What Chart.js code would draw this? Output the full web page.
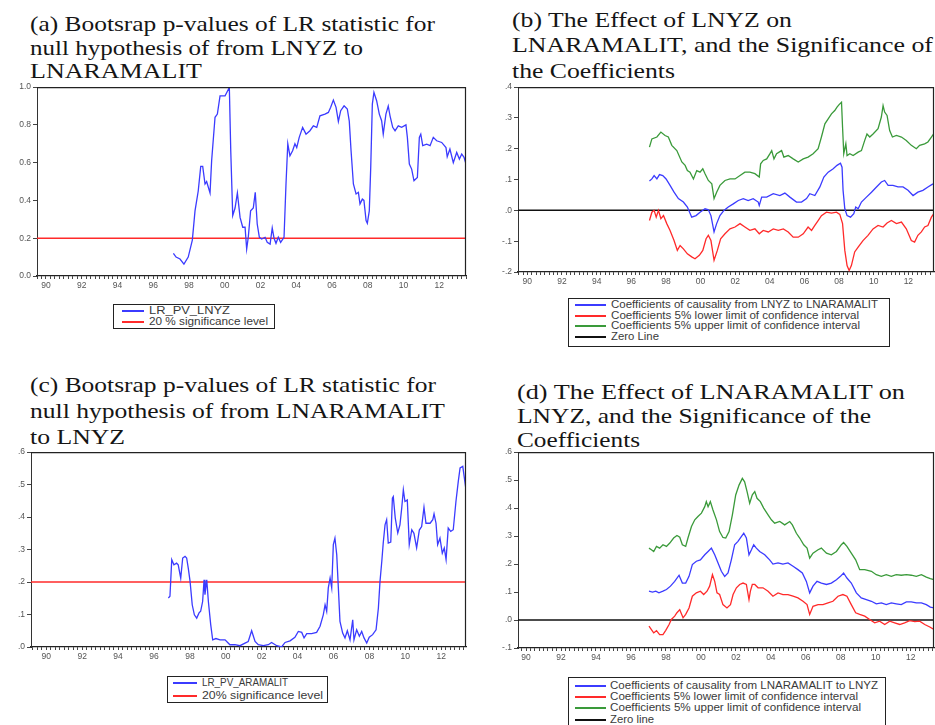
<!DOCTYPE html>
<html><head><meta charset="utf-8">
<script src="https://cdn.jsdelivr.net/npm/chart.js@4.4.0/dist/chart.umd.min.js"></script>
<style>
html,body{margin:0;padding:0;background:#fff;}
body{width:935px;height:725px;position:relative;overflow:hidden;}
canvas{position:absolute;}
.t{position:absolute;font-family:"Liberation Serif","Times New Roman",serif;font-size:22px;color:#151515;white-space:nowrap;line-height:21px;transform-origin:0 0;}
.lg{position:absolute;border:1.5px solid #222;box-sizing:border-box;background:#fff;}
.row{position:absolute;left:0;font-family:"Liberation Sans",Arial,sans-serif;font-size:10px;color:#3a3a3a;white-space:nowrap;line-height:10px;}
.sw{position:absolute;height:2px;top:4px;}
.tx{position:absolute;top:0;transform-origin:0 0;}
</style></head><body>
<div class="t" data-w="405" style="left:30px;top:13px">(a) Bootsrap p-values of LR statistic for</div>
<div class="t" data-w="333" style="left:30px;top:37px">null hypothesis of from LNYZ to</div>
<div class="t" data-w="172" style="left:30px;top:60px">LNARAMALIT</div>
<div class="t" data-w="280" style="left:512px;top:9px">(b) The Effect of LNYZ on</div>
<div class="t" data-w="421" style="left:512px;top:34px">LNARAMALIT, and the Significance of</div>
<div class="t" data-w="163" style="left:512px;top:60px">the Coefficients</div>
<div class="t" data-w="406" style="left:30px;top:374px">(c) Bootsrap p-values of LR statistic for</div>
<div class="t" data-w="415" style="left:30px;top:400px">null hypothesis of from LNARAMALIT</div>
<div class="t" data-w="95" style="left:30px;top:426px">to LNYZ</div>
<div class="t" data-w="388" style="left:517px;top:381px">(d) The Effect of LNARAMALIT on</div>
<div class="t" data-w="354" style="left:517px;top:405px">LNYZ, and the Significance of the</div>
<div class="t" data-w="123" style="left:517px;top:429px">Coefficients</div>

<canvas id="ca" width="470" height="220" style="left:0;top:80px"></canvas>
<canvas id="cb" width="445" height="215" style="left:490px;top:80px"></canvas>
<canvas id="cc" width="470" height="225" style="left:0;top:445px"></canvas>
<canvas id="cd" width="445" height="228" style="left:490px;top:445px"></canvas>

<div id="lga" class="lg" style="left:113px;top:304px;width:162px;height:25px"></div>
<div id="lgb" class="lg" style="left:568px;top:298px;width:322px;height:49px"></div>
<div id="lgc" class="lg" style="left:167px;top:676px;width:161px;height:27px"></div>
<div id="lgd" class="lg" style="left:568px;top:677px;width:318px;height:52px"></div>

<script>
// ---------- DATA ----------
const yearLabels = [1990,1992,1994,1996,1998,2000,2002,2004,2006,2008,2010,2012];

// (a) p-values, LNYZ -> LNARAMALIT
const aYears = [1997.13,1997.28,1997.5,1997.72,1997.96,1998.19,1998.34,1998.52,1998.66,1998.77,1998.9,1998.99,1999.18,1999.27,1999.46,1999.59,1999.74,2000.02,2000.11,2000.26,2000.34,2000.45,2000.58,2000.71,2000.86,2001.01,2001.14,2001.23,2001.32,2001.45,2001.6,2001.71,2001.82,2001.94,2002.07,2002.26,2002.38,2002.54,2002.66,2002.76,2002.87,2003.0,2003.13,2003.32,2003.43,2003.53,2003.65,2003.8,2003.93,2004.03,2004.17,2004.36,2004.55,2004.77,2004.96,2005.15,2005.33,2005.61,2005.8,2005.93,2006.08,2006.23,2006.36,2006.49,2006.68,2006.86,2006.97,2007.07,2007.2,2007.35,2007.48,2007.57,2007.7,2007.79,2007.91,2007.98,2008.09,2008.17,2008.26,2008.35,2008.5,2008.65,2008.78,2008.87,2009.02,2009.15,2009.25,2009.4,2009.53,2009.71,2009.9,2010.14,2010.22,2010.33,2010.46,2010.59,2010.78,2010.89,2010.97,2011.08,2011.3,2011.49,2011.67,2011.86,2012.14,2012.38,2012.45,2012.6,2012.79,2012.98,2013.13,2013.26,2013.39,2013.5];
const aPValues = [0.12,0.10,0.09,0.063,0.10,0.19,0.345,0.45,0.58,0.58,0.487,0.50,0.44,0.61,0.84,0.857,0.954,0.954,0.97,0.998,0.66,0.32,0.36,0.44,0.31,0.258,0.258,0.143,0.205,0.345,0.36,0.443,0.275,0.205,0.196,0.205,0.178,0.169,0.254,0.20,0.173,0.205,0.178,0.205,0.487,0.70,0.636,0.663,0.70,0.68,0.734,0.787,0.751,0.769,0.795,0.787,0.848,0.857,0.866,0.893,0.931,0.893,0.818,0.875,0.901,0.884,0.82,0.663,0.487,0.434,0.443,0.381,0.407,0.40,0.293,0.279,0.345,0.575,0.91,0.972,0.928,0.857,0.822,0.751,0.857,0.90,0.848,0.787,0.769,0.795,0.787,0.80,0.734,0.593,0.566,0.504,0.522,0.734,0.751,0.69,0.698,0.69,0.734,0.716,0.707,0.68,0.631,0.672,0.60,0.654,0.619,0.646,0.628,0.593];
const aSigLevel = 0.2;
const aYTicks = [0,0.2,0.4,0.6,0.8,1.0];

// (b) coefficients, LNYZ -> LNARAMALIT
const bCoefYears = [1997.05,1997.19,1997.32,1997.48,1997.63,1997.82,1998.01,1998.24,1998.47,1998.72,1999.01,1999.24,1999.49,1999.74,1999.97,2000.26,2000.45,2000.6,2000.78,2000.93,2001.12,2001.35,2001.6,2001.89,2002.18,2002.47,2002.75,2003.04,2003.33,2003.39,2003.53,2003.82,2004.2,2004.58,2004.87,2005.16,2005.54,2005.83,2006.12,2006.31,2006.6,2006.89,2007.12,2007.37,2007.66,2007.88,2008.08,2008.17,2008.23,2008.33,2008.46,2008.66,2008.85,2008.96,2009.1,2009.29,2009.58,2009.87,2010.16,2010.44,2010.63,2010.83,2011.11,2011.4,2011.69,2011.98,2012.27,2012.55,2012.84,2013.13,2013.42];
const bCoef = [0.095,0.102,0.113,0.102,0.116,0.113,0.102,0.081,0.059,0.038,0.027,0.011,-0.022,-0.017,-0.006,0.005,0.002,-0.017,-0.07,-0.043,-0.017,0.0,0.011,0.021,0.032,0.038,0.032,0.038,0.027,0.016,0.043,0.043,0.054,0.048,0.056,0.043,0.027,0.027,0.038,0.054,0.048,0.076,0.108,0.124,0.135,0.146,0.153,0.14,0.065,0.005,-0.017,-0.022,-0.011,0.011,0.005,0.027,0.043,0.059,0.076,0.092,0.097,0.081,0.081,0.076,0.076,0.065,0.048,0.059,0.065,0.076,0.086];
const bLowerYears = [1997.05,1997.19,1997.32,1997.44,1997.57,1997.71,1997.86,1998.05,1998.24,1998.47,1998.66,1998.82,1999.01,1999.24,1999.49,1999.68,1999.93,2000.13,2000.32,2000.45,2000.6,2000.78,2000.97,2001.16,2001.41,2001.7,2001.99,2002.28,2002.56,2002.85,2003.14,2003.39,2003.62,2003.91,2004.2,2004.49,2004.78,2005.06,2005.35,2005.64,2005.93,2006.21,2006.41,2006.6,2006.79,2006.98,2007.27,2007.56,2007.85,2008.04,2008.2,2008.33,2008.46,2008.58,2008.71,2008.9,2009.1,2009.38,2009.67,2009.96,2010.25,2010.54,2010.77,2011.02,2011.31,2011.6,2011.88,2012.17,2012.36,2012.55,2012.75,2012.94,2013.13,2013.33,2013.46];
const bLower = [-0.033,-0.006,0.0,-0.022,0.0,-0.027,-0.017,-0.043,-0.065,-0.098,-0.13,-0.114,-0.125,-0.141,-0.151,-0.157,-0.146,-0.13,-0.092,-0.081,-0.098,-0.162,-0.13,-0.092,-0.076,-0.06,-0.054,-0.043,-0.054,-0.065,-0.06,-0.076,-0.065,-0.07,-0.06,-0.065,-0.06,-0.07,-0.087,-0.087,-0.076,-0.054,-0.065,-0.049,-0.033,-0.017,-0.006,-0.009,-0.006,-0.013,-0.043,-0.13,-0.179,-0.195,-0.179,-0.135,-0.119,-0.098,-0.081,-0.06,-0.049,-0.054,-0.041,-0.033,-0.043,-0.038,-0.06,-0.098,-0.103,-0.081,-0.07,-0.054,-0.049,-0.022,-0.011];
const bUpperYears = [1997.05,1997.19,1997.48,1997.71,1997.95,1998.14,1998.34,1998.63,1998.92,1999.11,1999.24,1999.39,1999.59,1999.78,1999.97,2000.13,2000.26,2000.45,2000.65,2000.78,2000.93,2001.12,2001.41,2001.7,2001.99,2002.28,2002.56,2002.85,2003.14,2003.39,2003.47,2003.62,2003.82,2004.01,2004.11,2004.24,2004.39,2004.68,2004.81,2005.06,2005.35,2005.64,2005.93,2006.21,2006.5,2006.79,2006.98,2007.18,2007.37,2007.56,2007.75,2007.88,2008.0,2008.14,2008.2,2008.27,2008.39,2008.46,2008.62,2008.81,2009.1,2009.29,2009.48,2009.61,2009.77,2009.96,2010.25,2010.44,2010.54,2010.63,2010.77,2010.92,2011.08,2011.31,2011.6,2011.88,2012.17,2012.46,2012.65,2012.94,2013.13,2013.33,2013.46];
const bUpper = [0.205,0.232,0.238,0.254,0.243,0.238,0.211,0.194,0.157,0.146,0.129,0.124,0.102,0.129,0.124,0.135,0.119,0.097,0.086,0.038,0.059,0.081,0.097,0.102,0.102,0.113,0.124,0.124,0.119,0.108,0.151,0.162,0.167,0.184,0.194,0.167,0.184,0.194,0.173,0.178,0.167,0.157,0.167,0.173,0.184,0.2,0.238,0.281,0.297,0.313,0.324,0.335,0.343,0.351,0.27,0.184,0.216,0.178,0.184,0.178,0.189,0.194,0.227,0.248,0.238,0.248,0.265,0.303,0.34,0.319,0.308,0.259,0.238,0.243,0.238,0.227,0.211,0.2,0.211,0.216,0.222,0.238,0.248];
const zeroLine = 0;
const bYTicks = [-0.2,-0.1,0,0.1,0.2,0.3,0.4];

// (c) p-values, LNARAMALIT -> LNYZ
const cYears = [1996.80,1996.89,1996.99,1997.11,1997.26,1997.35,1997.49,1997.6,1997.73,1997.82,1997.91,1998.01,1998.13,1998.25,1998.38,1998.51,1998.6,1998.71,1998.79,1998.84,1998.94,1999.03,1999.16,1999.27,1999.45,1999.68,1999.96,2000.23,2000.51,2000.79,2001.07,2001.25,2001.44,2001.63,2001.81,2002.09,2002.37,2002.55,2002.84,2003.11,2003.3,2003.58,2003.85,2004.04,2004.23,2004.36,2004.51,2004.78,2005.06,2005.25,2005.43,2005.53,2005.62,2005.71,2005.81,2005.9,2005.99,2006.08,2006.18,2006.27,2006.36,2006.51,2006.64,2006.77,2006.92,2007.07,2007.14,2007.29,2007.44,2007.57,2007.7,2007.85,2007.99,2008.18,2008.37,2008.5,2008.59,2008.69,2008.77,2008.87,2008.96,2009.05,2009.19,2009.28,2009.33,2009.44,2009.58,2009.7,2009.8,2009.89,2009.98,2010.11,2010.22,2010.36,2010.48,2010.63,2010.78,2010.91,2011.04,2011.15,2011.38,2011.53,2011.6,2011.71,2011.8,2011.93,2012.06,2012.17,2012.27,2012.39,2012.53,2012.67,2012.82,2012.95,2013.05,2013.2,2013.29,2013.38];
const cPValues = [0.151,0.156,0.269,0.253,0.258,0.253,0.212,0.274,0.279,0.274,0.243,0.202,0.13,0.099,0.089,0.105,0.11,0.14,0.207,0.161,0.207,0.14,0.069,0.022,0.026,0.022,0.022,0.007,0.007,0.004,0.012,0.017,0.05,0.017,0.007,0.004,0.007,0.014,0.004,0.0,0.014,0.019,0.03,0.048,0.045,0.028,0.041,0.041,0.045,0.064,0.099,0.13,0.11,0.182,0.212,0.182,0.315,0.335,0.284,0.182,0.079,0.043,0.028,0.05,0.022,0.084,0.022,0.053,0.033,0.048,0.028,0.012,0.03,0.038,0.053,0.12,0.202,0.264,0.32,0.376,0.392,0.32,0.323,0.458,0.463,0.397,0.351,0.376,0.428,0.484,0.448,0.453,0.315,0.361,0.35,0.305,0.36,0.371,0.43,0.381,0.381,0.392,0.41,0.381,0.315,0.335,0.289,0.305,0.269,0.366,0.356,0.361,0.448,0.51,0.551,0.556,0.52,0.484];
const cSigLevel = 0.2;
const cYTicks = [0,0.1,0.2,0.3,0.4,0.5,0.6];

// (d) coefficients, LNARAMALIT -> LNYZ
const dCoefYears = [1997.03,1997.23,1997.42,1997.6,1997.83,1998.03,1998.26,1998.5,1998.75,1998.94,1999.13,1999.32,1999.51,1999.74,1999.97,2000.22,2000.41,2000.6,2000.79,2000.98,2001.17,2001.36,2001.55,2001.74,2001.93,2002.12,2002.32,2002.45,2002.6,2002.75,2002.89,2003.02,2003.17,2003.36,2003.65,2003.93,2004.12,2004.41,2004.69,2004.98,2005.27,2005.55,2005.8,2006.03,2006.22,2006.41,2006.64,2006.89,2007.18,2007.46,2007.75,2007.98,2008.16,2008.35,2008.6,2008.89,2009.17,2009.46,2009.75,2010.03,2010.32,2010.6,2010.89,2011.17,2011.46,2011.75,2012.03,2012.32,2012.61,2012.89,2013.12,2013.33];
const dCoef = [0.103,0.1,0.103,0.097,0.103,0.109,0.121,0.138,0.16,0.132,0.132,0.156,0.198,0.21,0.215,0.233,0.245,0.257,0.233,0.204,0.174,0.156,0.168,0.215,0.269,0.281,0.299,0.31,0.293,0.233,0.251,0.269,0.257,0.245,0.233,0.215,0.2,0.204,0.2,0.204,0.192,0.18,0.168,0.138,0.097,0.121,0.138,0.132,0.127,0.132,0.144,0.156,0.168,0.15,0.132,0.097,0.079,0.073,0.067,0.058,0.061,0.055,0.061,0.058,0.055,0.065,0.065,0.061,0.061,0.055,0.046,0.043];
const dLowerYears = [1997.03,1997.17,1997.3,1997.46,1997.64,1997.83,1997.99,1998.18,1998.31,1998.5,1998.63,1998.79,1998.98,1999.13,1999.32,1999.51,1999.74,1999.97,2000.16,2000.35,2000.5,2000.66,2000.79,2000.92,2001.07,2001.26,2001.49,2001.69,2001.84,2002.03,2002.22,2002.41,2002.6,2002.75,2002.83,2002.94,2003.08,2003.27,2003.55,2003.84,2004.12,2004.41,2004.69,2004.98,2005.27,2005.55,2005.84,2006.07,2006.22,2006.41,2006.7,2006.98,2007.27,2007.55,2007.84,2008.12,2008.35,2008.6,2008.85,2009.08,2009.37,2009.65,2009.94,2010.22,2010.51,2010.8,2011.08,2011.37,2011.65,2011.94,2012.23,2012.51,2012.8,2013.09,2013.33];
const dLower = [-0.022,-0.034,-0.046,-0.038,-0.052,-0.052,-0.037,-0.016,0.002,0.014,0.026,0.037,0.008,0.02,0.043,0.085,0.097,0.103,0.091,0.103,0.121,0.162,0.138,0.097,0.091,0.055,0.043,0.055,0.091,0.115,0.127,0.132,0.127,0.073,0.103,0.127,0.127,0.115,0.115,0.103,0.085,0.097,0.091,0.091,0.085,0.079,0.067,0.055,0.02,0.049,0.055,0.055,0.061,0.067,0.085,0.091,0.085,0.055,0.026,0.02,0.014,0.002,-0.01,-0.004,-0.016,-0.004,-0.01,-0.016,-0.01,-0.002,-0.006,-0.004,-0.016,-0.025,-0.034];
const dUpperYears = [1997.03,1997.17,1997.3,1997.46,1997.64,1997.83,1998.03,1998.22,1998.44,1998.63,1998.79,1998.94,1999.13,1999.26,1999.46,1999.65,1999.83,2000.03,2000.22,2000.31,2000.41,2000.54,2000.69,2000.89,2001.07,2001.26,2001.42,2001.61,2001.8,2001.99,2002.18,2002.37,2002.5,2002.64,2002.79,2002.94,2003.08,2003.21,2003.4,2003.59,2003.84,2004.03,2004.22,2004.51,2004.79,2005.08,2005.23,2005.46,2005.65,2005.88,2006.07,2006.22,2006.41,2006.7,2006.89,2007.18,2007.46,2007.75,2008.03,2008.16,2008.35,2008.6,2008.85,2009.08,2009.37,2009.75,2010.03,2010.32,2010.6,2010.89,2011.17,2011.46,2011.75,2012.03,2012.32,2012.61,2012.89,2013.12,2013.33];
const dUpper = [0.257,0.251,0.245,0.263,0.257,0.269,0.263,0.275,0.293,0.302,0.296,0.269,0.263,0.293,0.334,0.358,0.37,0.382,0.405,0.423,0.405,0.423,0.393,0.358,0.316,0.295,0.293,0.316,0.376,0.447,0.482,0.506,0.494,0.459,0.417,0.447,0.459,0.435,0.423,0.4,0.376,0.358,0.346,0.352,0.34,0.352,0.34,0.31,0.293,0.269,0.257,0.221,0.239,0.251,0.257,0.239,0.233,0.245,0.269,0.277,0.263,0.239,0.215,0.18,0.18,0.174,0.162,0.156,0.162,0.156,0.162,0.16,0.162,0.16,0.156,0.162,0.153,0.148,0.144];
const dYTicks = [-0.1,0,0.1,0.2,0.3,0.4,0.5,0.6];

// ---------- COLOURS ----------
const BLUE = '#3b3bff', RED = '#ff2a2a', GREEN = '#3a9a3a', BLACK = '#111';

function pts(xs, ys){ const n=Math.min(xs.length, ys.length); const o=[]; for(let i=0;i<n;i++) o.push({x:xs[i], y:ys[i]}); return o; }
function flat(v, lo, hi){ return [{x:lo,y:v},{x:hi,y:v}]; }
function fmtA(v){ return v.toFixed(1); }
function fmtB(v){ const s=Math.abs(v).toFixed(1).replace(/^0/,''); return (v< -1e-9?'-':'')+s; }

const frame = {
  id:'frame',
  afterDraw(chart){
    const a=chart.chartArea, c=chart.ctx;
    c.save(); c.strokeStyle='#222'; c.lineWidth=1.2;
    c.beginPath();
    c.moveTo(a.left, a.top+0.5); c.lineTo(a.right-0.5, a.top+0.5); c.lineTo(a.right-0.5, a.bottom);
    c.stroke(); c.restore();
  }
};

function makeChart(id, o){
  const ds = o.series.map(s=>({
    data:s.data, borderColor:s.color, borderWidth:s.w||1.3, pointRadius:0, tension:0, fill:false
  }));
  return new Chart(document.getElementById(id), {
    type:'line',
    data:{datasets:ds},
    options:{
      responsive:false, animation:false, devicePixelRatio:1,
      layout:{padding:{top:o.padTop, right:o.padRight, left:0, bottom:0}},
      plugins:{legend:{display:false}, tooltip:{enabled:false}},
      scales:{
        x:{type:'linear', min:o.xmin, max:o.xmax,
          afterBuildTicks(s){ const t=[]; for(let q=Math.ceil(o.xmin*4)/4;q<=o.xmax+1e-9;q+=0.25) t.push({value:Math.round(q*100)/100}); s.ticks=t; },
          afterFit(s){ s.height=o.xAxisH; },
          ticks:{autoSkip:false, maxRotation:0, padding:2, color:'#555', font:{family:'Liberation Sans, Arial', size:8.5},
            callback(v){ const r=Math.round(v*100)/100; return (yearLabels.includes(r)) ? String(r%100).padStart(2,'0') : ''; }},
          grid:{drawOnChartArea:false, drawTicks:true, tickLength:3, color:'#444'},
          border:{display:true, color:'#222', width:1.2}
        },
        y:{min:o.ymin, max:o.ymax,
          afterBuildTicks(s){ s.ticks=o.yticks.map(v=>({value:v})); },
          afterFit(s){ s.width=o.yAxisW; },
          ticks:{padding:2, color:'#555', font:{family:'Liberation Sans, Arial', size:8.5}, callback:o.fmt},
          grid:{drawOnChartArea:false, drawTicks:true, tickLength:4, color:'#444'},
          border:{display:true, color:'#333', width:1}
        }
      }
    },
    plugins:[frame]
  });
}

// (a)
const aXmin=1989.5, aXmax=2013.5;
makeChart('ca',{xmin:aXmin,xmax:aXmax,ymin:0,ymax:1,yticks:aYTicks,fmt:fmtA,padTop:7,padRight:4,xAxisH:24,yAxisW:37,
  series:[{data:pts(aYears,aPValues),color:BLUE},{data:flat(aSigLevel,aXmin,aXmax),color:RED,w:1.5}]});
// (b)
const bXmin=1989.46, bXmax=2013.48;
makeChart('cb',{xmin:bXmin,xmax:bXmax,ymin:-0.2,ymax:0.4,yticks:bYTicks,fmt:fmtB,padTop:7,padRight:1,xAxisH:23,yAxisW:28,
  series:[{data:pts(bCoefYears,bCoef),color:BLUE},{data:pts(bLowerYears,bLower),color:RED},{data:pts(bUpperYears,bUpper),color:GREEN},{data:flat(zeroLine,bXmin,bXmax),color:BLACK,w:1.5}]});
// (c)
const cXmin=1989.15, cXmax=2013.38;
makeChart('cc',{xmin:cXmin,xmax:cXmax,ymin:0,ymax:0.6,yticks:cYTicks,fmt:fmtB,padTop:7,padRight:4,xAxisH:23,yAxisW:31,
  series:[{data:pts(cYears,cPValues),color:BLUE},{data:flat(cSigLevel,cXmin,cXmax),color:RED,w:1.5}]});
// (d)
const dXmin=1989.54, dXmax=2013.33;
makeChart('cd',{xmin:dXmin,xmax:dXmax,ymin:-0.1,ymax:0.6,yticks:dYTicks,fmt:fmtB,padTop:7,padRight:1,xAxisH:25,yAxisW:28,
  series:[{data:pts(dCoefYears,dCoef),color:BLUE},{data:pts(dLowerYears,dLower),color:RED},{data:pts(dUpperYears,dUpper),color:GREEN},{data:flat(zeroLine,dXmin,dXmax),color:BLACK,w:1.5}]});

// ---------- LEGENDS ----------
function legend(id, items, swL, swW, txtL, rowTops){
  const box=document.getElementById(id);
  items.forEach((it,i)=>{
    const r=document.createElement('div'); r.className='row'; r.style.top=rowTops[i]+'px'; r.style.left='0px';
    const sw=document.createElement('span'); sw.className='sw'; sw.style.left=swL+'px'; sw.style.width=swW+'px'; sw.style.background=it.c;
    const tx=document.createElement('span'); tx.className='tx'; tx.style.left=txtL+'px'; tx.textContent=it.t; tx.dataset.w=it.w;
    r.appendChild(sw); r.appendChild(tx); box.appendChild(r);
  });
}
legend('lga',[{t:'LR_PV_LNYZ',c:BLUE,w:81},{t:'20 % significance level',c:RED,w:119}],8,22,35,[1,12]);
legend('lgb',[{t:'Coefficients of causality from LNYZ to LNARAMALIT',c:BLUE,w:267},{t:'Coefficients 5% lower limit of confidence interval',c:RED,w:248},{t:'Coefficients 5% upper limit of confidence interval',c:GREEN,w:249},{t:'Zero Line',c:BLACK,w:48}],6,31,42,[1,12,22,33]);
legend('lgc',[{t:'LR_PV_ARAMALIT',c:BLUE,w:86},{t:'20% significance level',c:RED,w:121}],5,24,34,[1,14]);
legend('lgd',[{t:'Coefficients of causality from LNARAMALIT to LNYZ',c:BLUE,w:268},{t:'Coefficients 5% lower limit of confidence interval',c:RED,w:248},{t:'Coefficients 5% upper limit of confidence interval',c:GREEN,w:251},{t:'Zero line',c:BLACK,w:44}],6,31,41,[3,14,25,37]);

// fit text widths to the reference
document.querySelectorAll('[data-w]').forEach(el=>{
  const target=parseFloat(el.dataset.w); const w=el.getBoundingClientRect().width;
  if(w>0 && target>0) el.style.transform='scaleX('+(target/w).toFixed(4)+')';
});
</script>
</body></html>
